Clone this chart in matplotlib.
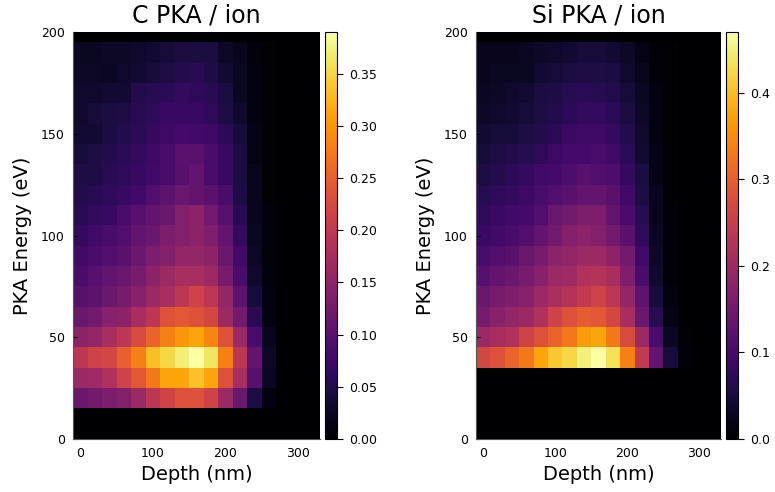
import numpy as np
import matplotlib
matplotlib.use("Agg")
import matplotlib.pyplot as plt

# bin centres
depth = np.arange(0, 321, 20)      # nm
energy = np.arange(0, 201, 10)     # eV

# C PKA per ion, rows = energy 20..190 eV, columns = depth 0..260 nm
c_rows = [
    [0.117, 0.125, 0.133, 0.140, 0.164, 0.195, 0.215, 0.234, 0.234, 0.215, 0.164, 0.117, 0.047, 0.012],
    [0.164, 0.168, 0.183, 0.215, 0.242, 0.273, 0.312, 0.312, 0.335, 0.312, 0.234, 0.176, 0.098, 0.023],
    [0.195, 0.215, 0.222, 0.250, 0.281, 0.332, 0.351, 0.371, 0.390, 0.363, 0.281, 0.195, 0.109, 0.027],
    [0.148, 0.156, 0.176, 0.195, 0.226, 0.254, 0.281, 0.300, 0.312, 0.285, 0.234, 0.164, 0.086, 0.020],
    [0.117, 0.125, 0.144, 0.148, 0.176, 0.195, 0.234, 0.242, 0.234, 0.222, 0.164, 0.125, 0.055, 0.012],
    [0.098, 0.105, 0.117, 0.129, 0.144, 0.164, 0.176, 0.195, 0.215, 0.195, 0.156, 0.105, 0.039, 0.012],
    [0.086, 0.098, 0.109, 0.117, 0.129, 0.148, 0.164, 0.176, 0.176, 0.164, 0.129, 0.086, 0.031, 0.008],
    [0.078, 0.086, 0.094, 0.101, 0.117, 0.133, 0.140, 0.156, 0.156, 0.148, 0.117, 0.078, 0.027, 0.008],
    [0.066, 0.078, 0.086, 0.094, 0.109, 0.117, 0.133, 0.140, 0.148, 0.137, 0.109, 0.066, 0.023, 0.008],
    [0.055, 0.066, 0.070, 0.086, 0.098, 0.109, 0.117, 0.140, 0.148, 0.125, 0.098, 0.055, 0.020, 0.008],
    [0.051, 0.055, 0.062, 0.070, 0.078, 0.094, 0.105, 0.117, 0.109, 0.101, 0.086, 0.047, 0.020, 0.004],
    [0.047, 0.047, 0.055, 0.062, 0.070, 0.078, 0.086, 0.098, 0.109, 0.086, 0.070, 0.043, 0.020, 0.004],
    [0.039, 0.047, 0.051, 0.059, 0.066, 0.074, 0.086, 0.101, 0.101, 0.086, 0.070, 0.043, 0.016, 0.004],
    [0.035, 0.035, 0.043, 0.051, 0.059, 0.066, 0.074, 0.082, 0.078, 0.074, 0.059, 0.039, 0.016, 0.004],
    [0.031, 0.039, 0.043, 0.047, 0.055, 0.062, 0.070, 0.070, 0.070, 0.062, 0.047, 0.031, 0.012, 0.004],
    [0.031, 0.031, 0.035, 0.035, 0.051, 0.055, 0.059, 0.066, 0.062, 0.055, 0.043, 0.023, 0.012, 0.004],
    [0.027, 0.027, 0.023, 0.031, 0.035, 0.039, 0.047, 0.051, 0.055, 0.047, 0.035, 0.023, 0.012, 0.004],
    [0.023, 0.023, 0.027, 0.027, 0.031, 0.035, 0.039, 0.043, 0.043, 0.043, 0.027, 0.020, 0.008, 0.004],
]
c_first_row = 2   # index of 20 eV

# Si PKA per ion, rows = energy 40..190 eV
si_rows = [
    [0.268, 0.282, 0.306, 0.329, 0.376, 0.409, 0.423, 0.451, 0.470, 0.432, 0.338, 0.244, 0.132, 0.047, 0.009],
    [0.197, 0.212, 0.221, 0.259, 0.282, 0.306, 0.329, 0.367, 0.376, 0.329, 0.273, 0.197, 0.103, 0.028, 0.005],
    [0.155, 0.174, 0.188, 0.197, 0.221, 0.259, 0.282, 0.296, 0.291, 0.268, 0.212, 0.141, 0.066, 0.019],
    [0.141, 0.155, 0.165, 0.174, 0.197, 0.216, 0.226, 0.244, 0.259, 0.235, 0.188, 0.127, 0.047, 0.014],
    [0.118, 0.132, 0.141, 0.155, 0.174, 0.197, 0.202, 0.221, 0.226, 0.212, 0.165, 0.103, 0.038, 0.009],
    [0.103, 0.113, 0.122, 0.141, 0.155, 0.179, 0.188, 0.197, 0.197, 0.179, 0.150, 0.094, 0.033, 0.009],
    [0.085, 0.094, 0.103, 0.113, 0.132, 0.150, 0.169, 0.179, 0.169, 0.150, 0.122, 0.075, 0.028, 0.009],
    [0.075, 0.085, 0.094, 0.099, 0.113, 0.141, 0.150, 0.160, 0.160, 0.132, 0.103, 0.066, 0.024, 0.009],
    [0.066, 0.075, 0.080, 0.089, 0.103, 0.113, 0.122, 0.132, 0.132, 0.122, 0.094, 0.056, 0.024, 0.005],
    [0.056, 0.061, 0.071, 0.080, 0.094, 0.099, 0.108, 0.118, 0.113, 0.108, 0.080, 0.052, 0.019, 0.005],
    [0.047, 0.056, 0.061, 0.066, 0.075, 0.089, 0.099, 0.099, 0.103, 0.094, 0.071, 0.042, 0.019, 0.005],
    [0.042, 0.047, 0.047, 0.056, 0.061, 0.071, 0.085, 0.089, 0.089, 0.080, 0.061, 0.038, 0.014, 0.005],
    [0.033, 0.038, 0.042, 0.047, 0.056, 0.061, 0.071, 0.080, 0.080, 0.071, 0.052, 0.033, 0.014, 0.005],
    [0.028, 0.033, 0.038, 0.042, 0.052, 0.056, 0.066, 0.071, 0.066, 0.061, 0.047, 0.028, 0.014, 0.005],
    [0.024, 0.028, 0.028, 0.028, 0.042, 0.047, 0.052, 0.056, 0.056, 0.052, 0.038, 0.024, 0.009, 0.005],
    [0.024, 0.024, 0.024, 0.028, 0.033, 0.038, 0.042, 0.047, 0.047, 0.042, 0.033, 0.019, 0.009, 0.005],
]
si_first_row = 4  # index of 40 eV


def to_grid(rows, first):
    z = np.zeros((len(energy), len(depth)))
    for i, r in enumerate(rows):
        z[first + i, :len(r)] = r
    return z


panels = [
    ("C PKA / ion", to_grid(c_rows, c_first_row), [0.05 * k for k in range(8)], "{:.2f}"),
    ("Si PKA / ion", to_grid(si_rows, si_first_row), [0.1 * k for k in range(5)], "{:.1f}"),
]

fig = plt.figure(figsize=(7.75, 4.92), dpi=100)
ax_pos = [[0.0942, 0.1077, 0.3187, 0.8272], [0.6142, 0.1077, 0.3161, 0.8272]]
cb_pos = [[0.4194, 0.1077, 0.0155, 0.8272], [0.9368, 0.1077, 0.0155, 0.8272]]

for (title, z, cticks, fmt), ap, cp in zip(panels, ax_pos, cb_pos):
    ax = fig.add_axes(ap)
    mesh = ax.pcolormesh(depth, energy, z, cmap="inferno", shading="nearest",
                         vmin=0, vmax=z.max())
    ax.set_xlim(-10, 330)
    ax.set_ylim(0, 200)
    ax.set_xticks([0, 100, 200, 300])
    ax.set_yticks([0, 50, 100, 150, 200])
    ax.tick_params(direction="in", labelsize=9, length=3, pad=6)
    for s in ["top", "right"]:
        ax.spines[s].set_visible(False)
    for s in ["left", "bottom"]:
        ax.spines[s].set_color("#555555")
    ax.set_title(title, fontsize=17, pad=7)
    ax.set_xlabel("Depth (nm)", fontsize=14, labelpad=3)
    ax.set_ylabel("PKA Energy (eV)", fontsize=14, labelpad=6)

    cax = fig.add_axes(cp)
    cb = fig.colorbar(mesh, cax=cax)
    cb.set_ticks(cticks)
    cb.set_ticklabels([fmt.format(t) for t in cticks])
    cax.tick_params(labelsize=9, length=4, pad=5)

fig.savefig("out.png", dpi=100)
